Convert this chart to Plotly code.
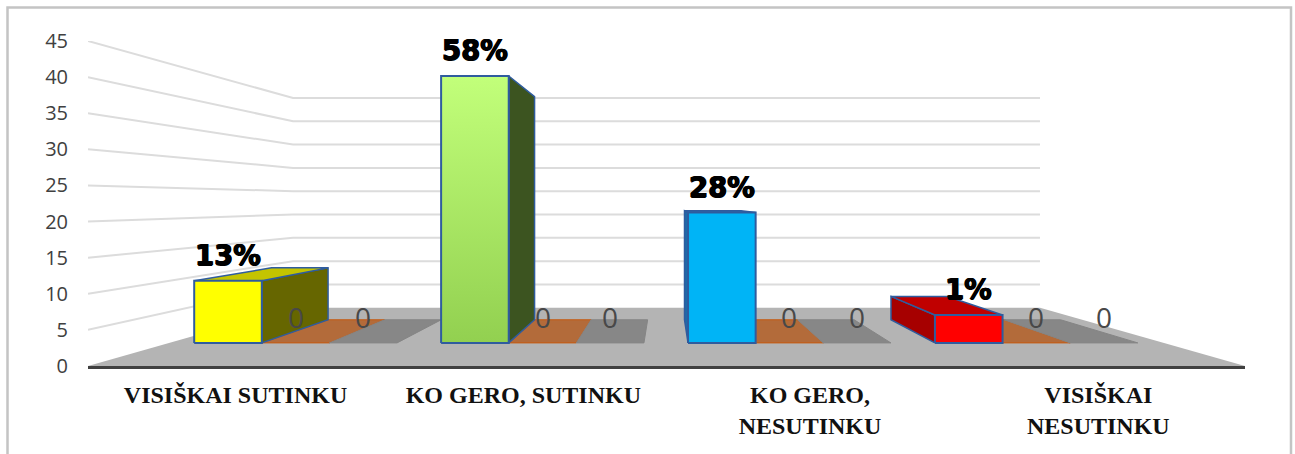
import plotly.graph_objects as go

# ---- data ----
categories = ["VISIŠKAI SUTINKU", "KO GERO, SUTINKU", "KO GERO,<br>NESUTINKU", "VISIŠKAI<br>NESUTINKU"]
series_1 = [10, 43, 21, 4.5]
series_2 = [0, 0, 0, 0]
series_3 = [0, 0, 0, 0]
labels_1 = ["13%", "58%", "28%", "1%"]
y_ticks = [0, 5, 10, 15, 20, 25, 30, 35, 40, 45]

front_colors = ["#ffff00", "#92d050", "#00b4f6", "#ff0000"]
side_colors = ["#666600", "#3c5420", "#1f6aa8", "#a60000"]
top_colors = ["#c4c400", "#6a9a3a", "#1c7fc0", "#c00000"]
EDGE = "#2f5c9e"

# ---- 3-D perspective model (Excel-like view) ----
CX = 2.0           # vanishing point in category units
VY = 22.75         # vanishing point in value units
K = 0.549          # perspective strength
BAR_D0, BAR_D1 = 0.298, 0.713   # depth of the bars on the floor
GAP, STEP, BAR_W = 0.1, 0.9933, 0.272


def proj(x, v, d):
    s = 1 / (1 + K * d)
    return CX + (x - CX) * s, VY + (v - VY) * s


def poly(points, fill, line=None, width=1.5, gradient=None):
    pts = [proj(*p) for p in points]
    xs = [p[0] for p in pts] + [pts[0][0]]
    ys = [p[1] for p in pts] + [pts[0][1]]
    kw = dict(fillgradient=gradient) if gradient else dict(fillcolor=fill)
    return go.Scatter(x=xs, y=ys, mode="lines", fill="toself",
                      line=dict(color=line or "rgba(0,0,0,0)", width=width),
                      hoverinfo="skip", showlegend=False, **kw)


fig = go.Figure()

# gridlines on side wall and back wall
for v in y_ticks[1:]:
    a, b, c = proj(0, v, 0), proj(0, v, 1), proj(4, v, 1)
    fig.add_trace(go.Scatter(x=[a[0], b[0], c[0]], y=[a[1], b[1], c[1]], mode="lines",
                             line=dict(color="#dcdcdc", width=2),
                             hoverinfo="skip", showlegend=False))

# floor
fig.add_trace(poly([(0, 0, 0), (4, 0, 0), (4, 0, 1), (0, 0, 1)], "#b4b4b4"))

annotations = []


def add_label(x, v, text, font):
    px, py = proj(x, v, BAR_D0)
    annotations.append(dict(x=px, y=py, xref="x", yref="y", text=text, showarrow=False,
                            yanchor="middle", xanchor="center", yshift=26, font=font))


LABEL_FONT = dict(family="DejaVu Sans", size=27.5, color="#000000", weight="bold",
                  shadow="0.7px 0 0 #000, -0.7px 0 0 #000, 0 0.5px 0 #000")
ZERO_FONT = dict(family="Open Sans", size=28, color="#484848")

for i, cat in enumerate(categories):
    base = GAP + i * STEP
    # zero-height series lie flat on the floor
    for j, (vals, col, ln) in enumerate(((series_2, "#b36b3a", "#c55a11"), (series_3, "#878787", "#858585"))):
        x0 = base + BAR_W * (j + 1)
        x1 = x0 + BAR_W
        v = vals[i]
        fig.add_trace(poly([(x0, v, BAR_D0), (x1, v, BAR_D0), (x1, v, BAR_D1), (x0, v, BAR_D1)], col, ln, 1))
        add_label((x0 + x1) / 2, v, str(v), ZERO_FONT)

    # the valued bar
    x0, x1 = base, base + BAR_W
    v = series_1[i]
    if x1 < CX:
        fig.add_trace(poly([(x1, 0, BAR_D0), (x1, v, BAR_D0), (x1, v, BAR_D1), (x1, 0, BAR_D1)],
                           side_colors[i], EDGE))
    elif x0 > CX:
        fig.add_trace(poly([(x0, 0, BAR_D0), (x0, v, BAR_D0), (x0, v, BAR_D1), (x0, 0, BAR_D1)],
                           side_colors[i], EDGE))
    if v < VY:  # the top face is only seen on bars below eye level
        fig.add_trace(poly([(x0, v, BAR_D0), (x1, v, BAR_D0), (x1, v, BAR_D1), (x0, v, BAR_D1)],
                           top_colors[i], EDGE))
    grad = None
    if i == 1:
        grad = dict(type="vertical", colorscale=[[0, "#92d050"], [1, "#c2ff7a"]])
    fig.add_trace(poly([(x0, 0, BAR_D0), (x1, 0, BAR_D0), (x1, v, BAR_D0), (x0, v, BAR_D0)],
                       front_colors[i], EDGE, 2, grad))
    add_label((x0 + x1) / 2, v, labels_1[i], LABEL_FONT)

W, H = 1295, 454
L, R, T, B = 88, 50, 41, 88
pw, ph = W - L - R, H - T - B
px = lambda p: (p - L) / pw
py = lambda p: (H - B - p) / ph
frame = dict(type="path", xref="paper", yref="paper",
             path=f"M {px(7.5)} {py(470)} L {px(7.5)} {py(7.5)} L {px(1291)} {py(7.5)} L {px(1291)} {py(470)}",
             line=dict(color="#c4c4c4", width=2.5))

fig.update_layout(
    width=W, height=H, margin=dict(l=L, r=R, t=T, b=B, autoexpand=False),
    paper_bgcolor="white", plot_bgcolor="white", showlegend=False,
    annotations=annotations, shapes=[frame],
    xaxis=dict(range=[0, 4], tickmode="array", tickvals=[0.51, 1.505, 2.496, 3.493], ticktext=categories,
               showgrid=False, zeroline=False, showline=True, linecolor="#404040", linewidth=3,
               ticks="outside", ticklen=5, tickcolor="rgba(0,0,0,0)",
               tickangle=0,
               tickfont=dict(family="Liberation Serif", size=24, color="#111111", weight="bold")),
    yaxis=dict(range=[0, 45], tickmode="array", tickvals=y_ticks, showgrid=False, zeroline=False,
               showline=False, ticks="outside", ticklen=15, tickcolor="rgba(0,0,0,0)",
               tickfont=dict(family="Open Sans", size=20, color="#404040")),
)

fig.write_html("out.html", config=dict(displayModeBar=False),
               post_script="document.body.style.margin='0';document.body.style.overflow='hidden';")
